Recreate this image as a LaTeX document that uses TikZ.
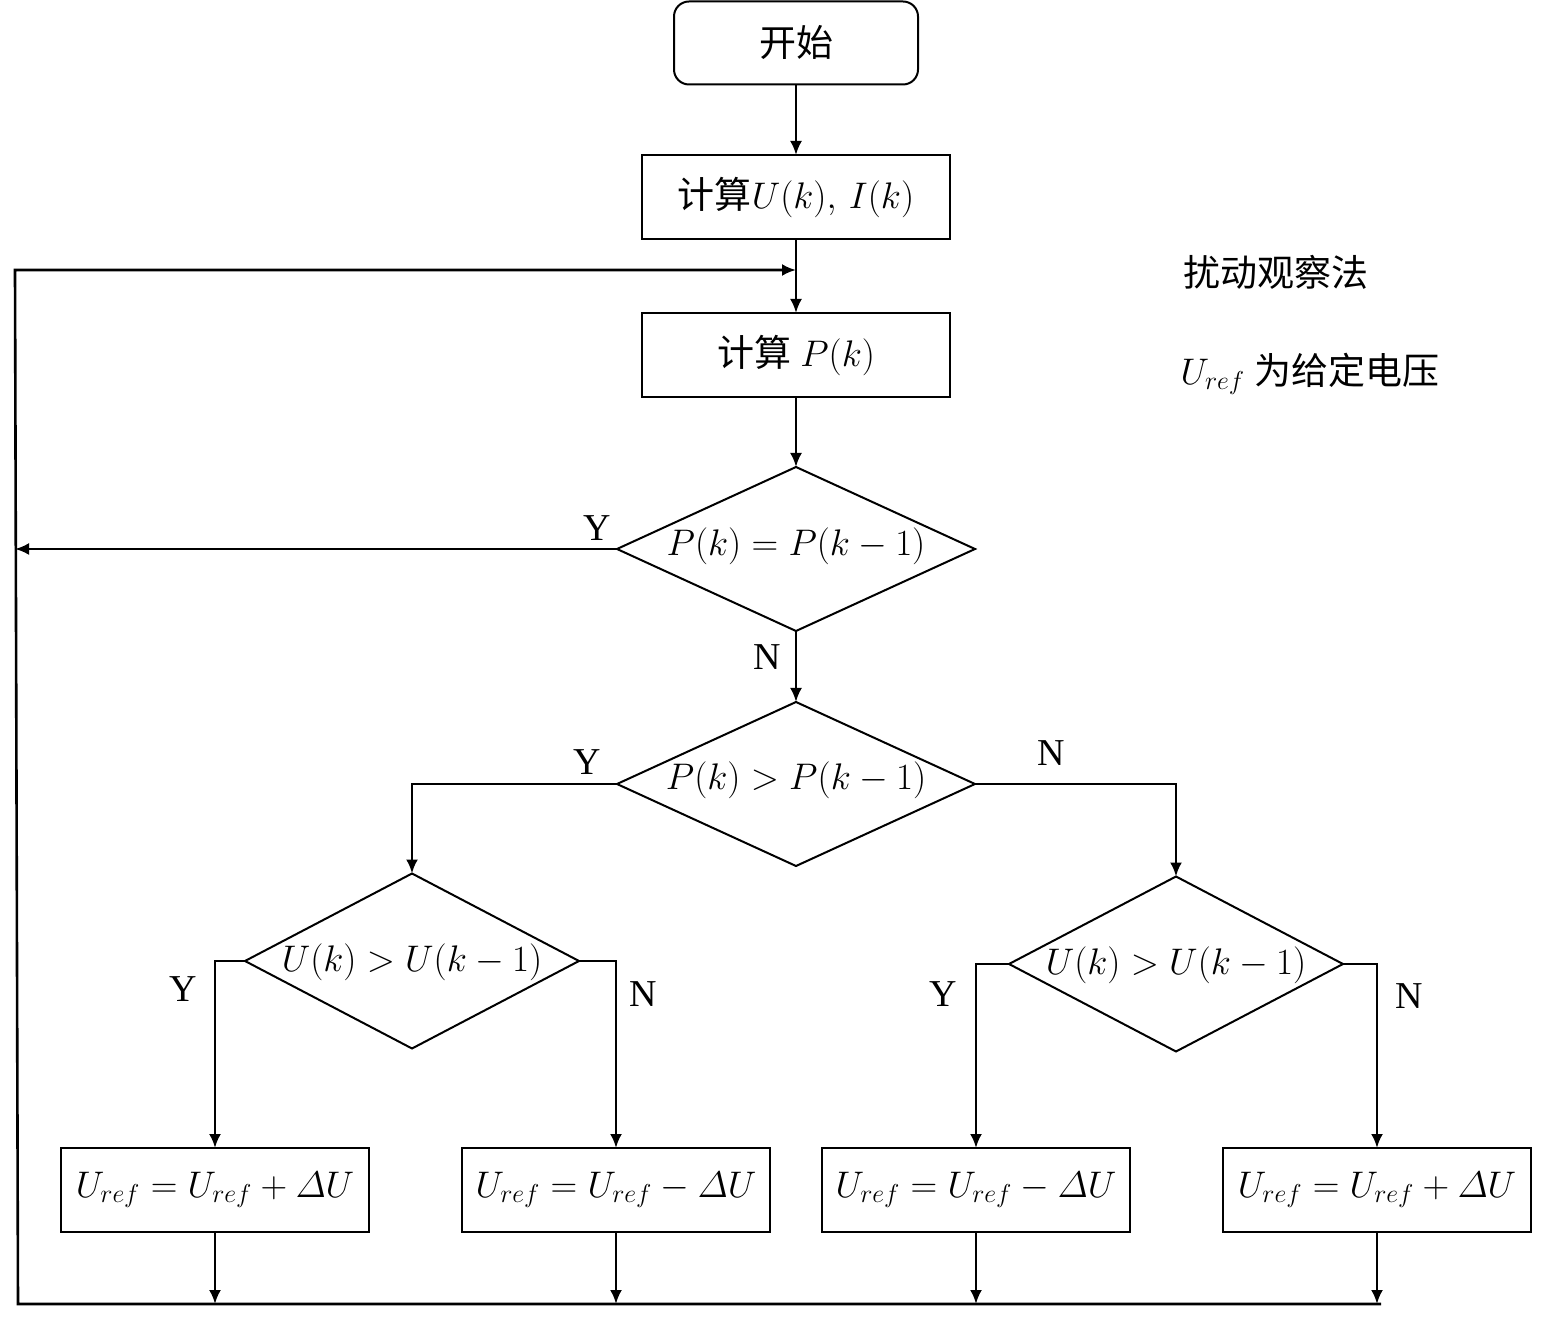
\RequirePackage{fix-cm}
\documentclass[tikz,border=0pt]{standalone}
\usepackage{amsmath}
\usepackage{fontspec}
\setmainfont{Liberation Serif}
\newfontfamily\cjk{Noto Sans CJK SC}
\usetikzlibrary{arrows.meta,shapes.geometric}

\newcommand\cjkfont{\cjk\fontsize{18.5}{22}\selectfont}

\tikzset{
  conn/.style={line width=1.3pt},
  arr/.style={conn,-{Latex[length=7pt,width=6pt]}},
  startbox/.style={draw,line width=1pt,rounded corners=7.5pt,minimum width=122pt,minimum height=41.5pt,inner sep=0pt,outer sep=0pt},
  procbox/.style={draw,line width=1pt,minimum width=154pt,minimum height=42pt,inner sep=0pt,outer sep=0pt},
  bigdia/.style={draw,diamond,line width=1pt,minimum width=179pt,minimum height=82pt,inner sep=0pt,outer sep=0pt},
  smalldia/.style={draw,diamond,line width=1pt,minimum width=167pt,minimum height=87.5pt,inner sep=0pt,outer sep=0pt},
  cjktext/.style={font=\cjkfont},
  mathtext/.style={font=\fontsize{18.5}{22}\selectfont},
  yn/.style={font=\fontsize{19}{23}\selectfont},
}

\begin{document}
\begin{tikzpicture}[x=0.5pt,y=-0.5pt]
\useasboundingbox (0,0) rectangle (1543,1320);

% main column
\node[startbox,cjktext] (start) at (796,43) {开始};
\node[procbox,mathtext] (calcUI) at (796,197) {{\cjkfont 计算}$U(k),\,I(k)$};
\node[procbox,mathtext] (calcP) at (796,355) {{\cjkfont 计算} $P(k)$};

% decisions
\node[bigdia] (eqP) at (796,549) {};
\node[mathtext] (eqPtxt) at (796,546) {$P(k)=P(k-1)$};
\node[bigdia] (gtP) at (796,784) {};
\node[mathtext] (gtPtxt) at (796,780) {$P(k)>P(k-1)$};
\node[smalldia] (gtUl) at (412,961) {};
\node[mathtext] (gtUltxt) at (412,962) {$U(k)>U(k-1)$};
\node[smalldia] (gtUr) at (1176,964) {};
\node[mathtext] (gtUrtxt) at (1176,965) {$U(k)>U(k-1)$};

% updates of the reference voltage
\node[procbox,mathtext] (upA) at (215,1190) {$U_{ref}=U_{ref}+\varDelta U$};
\node[procbox,mathtext] (upB) at (616,1190) {$U_{ref}=U_{ref}-\varDelta U$};
\node[procbox,mathtext] (upC) at (976,1190) {$U_{ref}=U_{ref}-\varDelta U$};
\node[procbox,mathtext] (upD) at (1377,1190) {$U_{ref}=U_{ref}+\varDelta U$};

% side notes
\node[cjktext] (note1) at (1276,272) {扰动观察法};
\node[mathtext] (note2) at (1310,374) {$U_{ref}$ {\cjkfont 为给定电压}};

% return path coordinates
\coordinate (join) at (796,270);
\coordinate (lt) at (15,270);
\coordinate (lb) at (18,1304);
\coordinate (br) at (1381,1304);
\coordinate (yl) at (15,549);

% connectors
\draw[arr] (start) -- (calcUI);
\draw[arr] (calcUI) -- (calcP);
\draw[arr] (calcP) -- (eqP);
\draw[arr] (eqP.west) -- (yl);
\draw[arr] (eqP.south) -- (gtP.north);
\draw[arr] (gtP.west) -| (gtUl.north);
\draw[arr] (gtP.east) -| (gtUr.north);
\draw[arr] (gtUl.west) -| (upA.north);
\draw[arr] (gtUl.east) -| (upB.north);
\draw[arr] (gtUr.west) -| (upC.north);
\draw[arr] (gtUr.east) -| (upD.north);
\foreach \b in {upA,upB,upC,upD}
  \draw[arr] (\b.south) -- (\b.south |- lb);
\draw[arr] (br) -- (lb) -- (lt) -- (join);

% branch labels
\node[yn] (y1) at (597,528) {Y};
\node[yn] (n1) at (767,657) {N};
\node[yn] (y2) at (587,762) {Y};
\node[yn] (n2) at (1051,753) {N};
\node[yn] (y3) at (183,989) {Y};
\node[yn] (n3) at (643,994) {N};
\node[yn] (y4) at (943,994) {Y};
\node[yn] (n4) at (1409,996) {N};
\end{tikzpicture}
\end{document}
